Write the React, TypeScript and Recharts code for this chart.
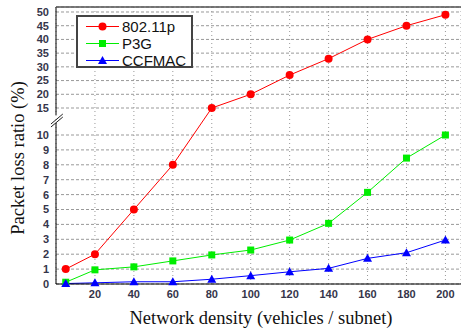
import React from "react";
import {
  LineChart,
  Line,
  XAxis,
  YAxis,
  CartesianGrid,
  ReferenceLine,
  Label,
} from "recharts";

// x values (network density)
const density = [5, 20, 40, 60, 80, 100, 120, 140, 160, 180, 200];
const xTicks = [20, 40, 60, 80, 100, 120, 140, 160, 180, 200];

// packet loss ratio (%) per scheme
const ieee80211p = [1.0, 2.0, 5.0, 8.0, 15.0, 20.0, 27.0, 33.0, 40.0, 45.0, 49.0];
const p3g = [0.12, 0.95, 1.15, 1.55, 1.95, 2.28, 2.95, 4.07, 6.15, 8.45, 10.0];
const ccfmac = [0.03, 0.08, 0.15, 0.15, 0.32, 0.56, 0.82, 1.05, 1.72, 2.1, 2.95];

// broken y axis: 0..10 then 15..50
const yTickLabels = [0, 1, 2, 3, 4, 5, 6, 7, 8, 9, 10, 15, 20, 25, 30, 35, 40, 45, 50];

// piecewise scale into plot pixels above the x axis
const toAxis = (v: number) => {
  if (v <= 10) return v * 14.9;
  if (v <= 15) return 149 + (v - 10) * 5.4;
  return 176 + (v - 15) * 2.743;
};

const data = density.map((x, i) => ({
  x,
  a: toAxis(ieee80211p[i]),
  b: toAxis(p3g[i]),
  c: toAxis(ccfmac[i]),
}));

const RED = "#ff0000";
const GREEN = "#00ee00";
const BLUE = "#0000ff";

const tickStyle = { fontFamily: "Liberation Sans, Arial", fontSize: 11, fontWeight: 700, fill: "#35354a" };

const Circle = ({ cx, cy }: any) => <circle cx={cx} cy={cy} r={4} fill={RED} />;
const Square = ({ cx, cy }: any) => (
  <rect x={cx - 3.5} y={cy - 3.5} width={7} height={7} fill={GREEN} />
);
const Triangle = ({ cx, cy }: any) => (
  <polygon points={`${cx},${cy - 4.5} ${cx + 4.5},${cy + 3.5} ${cx - 4.5},${cy + 3.5}`} fill={BLUE} />
);

const series = [
  { key: "a", name: "802.11p", color: RED, Marker: Circle },
  { key: "b", name: "P3G", color: GREEN, Marker: Square },
  { key: "c", name: "CCFMAC", color: BLUE, Marker: Triangle },
];

export default function App() {
  return (
    <div style={{ position: "absolute", left: 0, top: 0, width: 461, height: 331, background: "#fff" }}>
      <LineChart width={461} height={331} data={data} margin={{ top: 7, right: 0, left: 0, bottom: 0 }}>
        <CartesianGrid vertical={false} stroke="#999" strokeDasharray="3 2" />
        <CartesianGrid horizontal={false} stroke="#999" strokeDasharray="1 3" />
        <XAxis
          type="number"
          dataKey="x"
          domain={[0, 208]}
          ticks={xTicks}
          height={47}
          tickLine={false}
          tickSize={4}
          tickMargin={2}
          axisLine={{ stroke: "#000" }}
          tick={tickStyle}
        >
          <Label
            content={() => (
              <text x={261} y={324} textAnchor="middle" fontFamily="Liberation Serif, Times New Roman" fontSize={18.5} fill="#111">
                Network density (vehicles / subnet)
              </text>
            )}
          />
        </XAxis>
        <YAxis
          type="number"
          width={56}
          domain={[0, 277]}
          ticks={yTickLabels.map(toAxis)}
          interval={0}
          tickFormatter={(_v: number, i: number) => String(yTickLabels[i])}
          tickLine={false}
          tickSize={5}
          tickMargin={2}
          axisLine={false}
          tick={tickStyle}
        >
          <Label
            content={() => (
              <text
                x={24}
                y={158}
                textAnchor="middle"
                transform="rotate(-90, 24, 158)"
                fontFamily="Liberation Serif, Times New Roman"
                fontSize={18.5}
                fill="#111"
              >
                Packet loss ratio (%)
              </text>
            )}
          />
        </YAxis>
        {/* y axis line with a break */}
        <ReferenceLine segment={[{ x: 0, y: 0 }, { x: 0, y: 161 }]} stroke="#000" ifOverflow="visible" />
        <ReferenceLine segment={[{ x: 0, y: 169 }, { x: 0, y: 277 }]} stroke="#000" ifOverflow="visible" />
        <ReferenceLine segment={[{ x: -2.6, y: 160 }, { x: 3.5, y: 170 }]} stroke="#222" ifOverflow="visible" />
        <ReferenceLine segment={[{ x: -2.6, y: 157 }, { x: 3.5, y: 167 }]} stroke="#222" ifOverflow="visible" />
        <ReferenceLine y={277} stroke="#555" strokeWidth={1.5} ifOverflow="visible" />
        {series.map((s) => (
          <Line
            key={s.key}
            dataKey={s.key}
            name={s.name}
            stroke={s.color}
            strokeWidth={1}
            isAnimationActive={false}
            dot={(p: any) => <s.Marker key={`${s.key}-${p.index}`} cx={p.cx} cy={p.cy} />}
          />
        ))}
      </LineChart>
      <div
        style={{
          position: "absolute",
          left: 76,
          top: 15,
          width: 113,
          height: 49,
          border: "2px solid #444",
          background: "#fff",
          fontFamily: "Liberation Sans, Arial",
          fontSize: 15,
          color: "#111",
        }}
      >
        {series.map((s, i) => (
          <div key={s.key} style={{ position: "absolute", left: 0, top: 1 + i * 17, height: 17, display: "flex", alignItems: "center" }}>
            <svg width={44} height={17} style={{ display: "block" }}>
              <line x1={8} y1={8.5} x2={41} y2={8.5} stroke={s.color} strokeWidth={1} />
              <s.Marker cx={24.5} cy={8.5} />
            </svg>
            <span style={{ lineHeight: "17px" }}>{s.name}</span>
          </div>
        ))}
      </div>
    </div>
  );
}
